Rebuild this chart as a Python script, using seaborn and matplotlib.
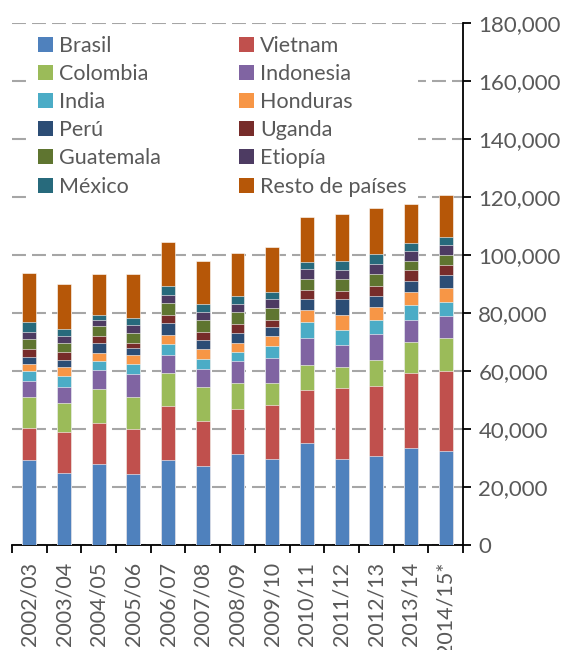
import numpy as np
import pandas as pd
import matplotlib
matplotlib.use("Agg")
import matplotlib.pyplot as plt
import seaborn as sns
from matplotlib.patches import Patch
from matplotlib.ticker import FuncFormatter, FixedLocator

years = ["2002/03", "2003/04", "2004/05", "2005/06", "2006/07", "2007/08", "2008/09",
         "2009/10", "2010/11", "2011/12", "2012/13", "2013/14", "2014/15*"]

countries = ["Brasil", "Vietnam", "Colombia", "Indonesia", "India", "Honduras",
             "Perú", "Uganda", "Guatemala", "Etiopía", "México", "Resto de países"]

brasil    = [29300, 24700, 27900, 24500, 29200, 27200, 31500, 29700, 35100, 29800, 30600, 33300, 32300]
vietnam   = [11200, 14200, 14300, 15600, 18800, 15700, 15500, 18600, 18500, 24500, 24300, 25900, 27800]
colombia  = [10500, 10100, 11500, 10800, 11200, 11500, 8900, 7600, 8400, 7200, 8900, 10900, 11400]
indonesia = [5600, 5600, 6600, 8000, 6400, 6300, 7700, 8700, 9500, 7500, 8800, 7600, 7400]
india     = [3400, 3800, 3300, 3600, 3600, 3600, 3000, 4100, 5500, 5300, 4900, 5100, 5000]
honduras  = [2500, 2900, 2500, 3000, 3300, 3400, 2900, 3300, 3900, 5100, 4500, 4300, 4700]
peru      = [2400, 2600, 3400, 2400, 4200, 2900, 3700, 3200, 3900, 5300, 4000, 4000, 4400]
uganda    = [2800, 2500, 2500, 1900, 2700, 3000, 3100, 2500, 3200, 2900, 3400, 3600, 3700]
guatemala = [3400, 3400, 3400, 3300, 4000, 4100, 3900, 3900, 3700, 4000, 3900, 3200, 3300]
etiopia   = [2500, 2200, 2200, 2900, 2900, 2800, 3000, 3200, 3400, 3100, 3500, 3400, 3300]
mexico    = [3400, 2400, 1800, 2400, 3000, 2500, 2800, 2600, 2400, 3200, 3400, 2700, 2900]
resto     = [16700, 15600, 14200, 15000, 15200, 14800, 14700, 15200, 15700, 16200, 15900, 13700, 14400]

colors = ["#4F81BD", "#C0504D", "#9BBB59", "#8064A2", "#4BACC6", "#F79646",
          "#2C4D75", "#772C2A", "#5F7530", "#4D3B62", "#276A7C", "#B65708"]

series = [brasil, vietnam, colombia, indonesia, india, honduras,
          peru, uganda, guatemala, etiopia, mexico, resto]

yticks = list(range(0, 180001, 20000))

sns.set_theme(style="white")
plt.rcParams['font.family'] = ['Lato', 'DejaVu Sans']
text_color = "#595959"

fig = plt.figure(figsize=(5.67, 6.5), dpi=100)
ax = fig.add_axes([12/567, 105/650, 451/567, 522/650])

cum = np.cumsum(np.array(series, dtype=float), axis=0)
for i in reversed(range(len(countries))):
    df = pd.DataFrame({"year": years, "value": cum[i]})
    sns.barplot(data=df, x="year", y="value", color=colors[i], saturation=1,
                width=0.4, errorbar=None, edgecolor="white", linewidth=0.4,
                ax=ax, zorder=3)

ax.set_xlim(-0.5, len(years) - 0.5)
ax.set_ylim(0, 180000)
ax.set_xlabel("")
ax.set_ylabel("")

ax.yaxis.tick_right()
ax.set_yticks(yticks)
ax.yaxis.set_major_formatter(FuncFormatter(lambda v, p: f"{int(v):,}"))
ax.tick_params(axis="y", which="major", direction="out", length=6, width=1.3,
               color="black", labelcolor=text_color, labelsize=16, pad=5,
               right=True, left=False)

ax.set_xticks(range(len(years)))
ax.set_xticklabels(years, rotation=90)
ax.xaxis.set_minor_locator(FixedLocator(np.arange(-0.5, len(years), 1.0)))
ax.tick_params(axis="x", which="major", length=0, labelsize=15.5,
               labelcolor=text_color, pad=12)
ax.tick_params(axis="x", which="minor", bottom=True, direction="out",
               length=6, width=1.3, color="black")

for s in ["left", "top"]:
    ax.spines[s].set_visible(False)
for s in ["right", "bottom"]:
    ax.spines[s].set_visible(True)
    ax.spines[s].set_color("black")
    ax.spines[s].set_linewidth(1.3)

ax.yaxis.grid(True, color="#A6A6A6", linestyle=(0, (6.7, 2.9)), linewidth=1.5, zorder=0)
ax.xaxis.grid(False)
ax.set_axisbelow(True)

handles = [Patch(facecolor=c, edgecolor="none") for c in colors]
order = [0, 2, 4, 6, 8, 10, 1, 3, 5, 7, 9, 11]
leg = ax.legend([handles[k] for k in order], [countries[k] for k in order],
                ncol=2, loc="upper left", bbox_to_anchor=(27/567, 1 - 25/650),
                bbox_transform=fig.transFigure, borderaxespad=0, borderpad=0.5,
                frameon=True, facecolor="white", edgecolor="none", framealpha=1,
                fancybox=False, fontsize=15.5, handlelength=0.7, handleheight=0.7,
                handletextpad=0.3, labelspacing=0.38, columnspacing=3.6)
for t in leg.get_texts():
    t.set_color(text_color)
# legend box hides the gridlines but stays below the bars
leg.set_zorder(2.5)

fig.savefig("out.png", dpi=100)
